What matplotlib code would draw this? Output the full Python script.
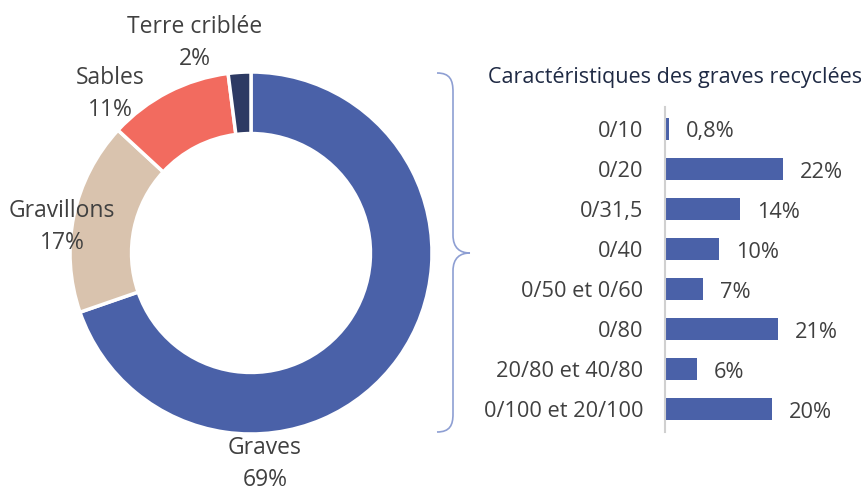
import matplotlib
matplotlib.use("Agg")
import matplotlib.pyplot as plt
from matplotlib.path import Path
from matplotlib.patches import PathPatch

plt.rcParams['font.family'] = ['Open Sans', 'DejaVu Sans']

# Donut: composition of recycled materials
donut_labels = ["Graves", "Gravillons", "Sables", "Terre criblée"]
donut_values = [69, 17, 11, 2]
donut_colors = ["#4A61A8", "#D9C3AE", "#F26B5F", "#2D3A63"]

# Bar chart: characteristics of recycled graves
bar_categories = ["0/10", "0/20", "0/31,5", "0/40", "0/50 et 0/60",
                  "0/80", "20/80 et 40/80", "0/100 et 20/100"]
bar_values = [0.8, 22, 14, 10, 7, 21, 6, 20]
bar_labels = ["0,8%", "22%", "14%", "10%", "7%", "21%", "6%", "20%"]

W, H = 862, 491
fig = plt.figure(figsize=(W / 100, H / 100), dpi=100)
fig.patch.set_facecolor("white")

def px_axes(x0, y0, x1, y1):
    """Axes positioned with pixel coords measured from the top-left corner."""
    return fig.add_axes([x0 / W, 1 - y1 / H, (x1 - x0) / W, (y1 - y0) / H])

label_color = "#404040"
fs_pie = 16.5
fs_bar = 15.7

# ---- donut ----
cx, cy, r = 251, 253, 181
axp = px_axes(cx - r, cy - r, cx + r, cy + r)
axp.pie(donut_values, colors=donut_colors, startangle=90, counterclock=False,
        radius=1.0, wedgeprops=dict(width=0.34, edgecolor="white", linewidth=2.5))
axp.set_xlim(-1, 1)
axp.set_ylim(-1, 1)
axp.set_aspect("equal")
axp.axis("off")

label_pos = {
    "Graves": (265, 464),
    "Gravillons": (62, 227),
    "Sables": (110, 94),
    "Terre criblée": (195, 43),
}

# ---- overlay for free text and the brace ----
ov = fig.add_axes([0, 0, 1, 1], zorder=5)
ov.set_xlim(0, W)
ov.set_ylim(H, 0)
ov.axis("off")
ov.patch.set_alpha(0)

for name, val in zip(donut_labels, donut_values):
    x, y = label_pos[name]
    ov.text(x, y, f"{name}\n{val}%", ha="center", va="center",
            fontsize=fs_pie, color=label_color, linespacing=1.44)

# curly brace
verts = [(437, 73), (450, 73), (453, 80), (453, 92),
         (453, 235),
         (453, 248), (460, 253), (470, 253),
         (460, 253), (453, 258), (453, 271),
         (453, 414),
         (453, 425), (450, 432), (437, 432)]
codes = [Path.MOVETO, Path.CURVE4, Path.CURVE4, Path.CURVE4,
         Path.LINETO,
         Path.CURVE4, Path.CURVE4, Path.CURVE4,
         Path.CURVE4, Path.CURVE4, Path.CURVE4,
         Path.LINETO,
         Path.CURVE4, Path.CURVE4, Path.CURVE4]
ov.add_patch(PathPatch(Path(verts, codes), facecolor="none",
                       edgecolor="#8E9FD3", linewidth=1.2))

ov.text(675, 77, "Caractéristiques des graves recyclées", ha="center",
        va="center", fontsize=15.5, color="#1F2A44")

# ---- bar chart ----
px_per_unit = 118 / 22
x0 = 665
x1 = 862
axb = px_axes(x0, 109, x1, 429)
ypos = list(range(len(bar_categories)))
axb.barh(ypos, bar_values, height=0.55, color="#4A61A8")
axb.set_xlim(0, (x1 - x0) / px_per_unit)
axb.set_ylim(len(bar_categories) - 0.5, -0.5)
axb.set_yticks(ypos)
axb.set_yticklabels(bar_categories, fontsize=fs_bar, color=label_color)
axb.tick_params(axis="y", length=0, pad=15.8)
axb.set_xticks([])
for s in ["top", "right", "bottom"]:
    axb.spines[s].set_visible(False)
axb.spines["left"].set_color("#D0D0D0")
axb.spines["left"].set_linewidth(1.5)
axb.spines["left"].set_bounds(-0.55, len(bar_categories) - 0.42)
axb.patch.set_alpha(0)
for y, v, lab in zip(ypos, bar_values, bar_labels):
    axb.annotate(lab, (v, y), xytext=(17, -3), textcoords="offset pixels",
                 ha="left", va="center", fontsize=fs_bar, color=label_color)

fig.savefig("out.png", dpi=100)
